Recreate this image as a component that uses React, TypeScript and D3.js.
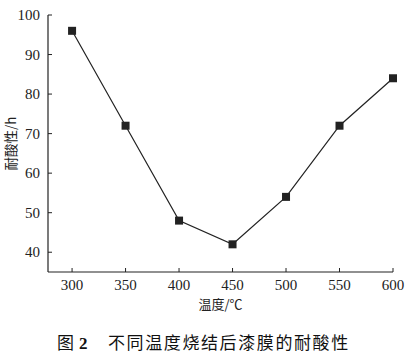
import React from "react";
import * as d3 from "d3";

const temps = [300, 350, 400, 450, 500, 550, 600];
const acidHours = [96, 72, 48, 42, 54, 72, 84];
const xTicks = [300, 350, 400, 450, 500, 550, 600];
const yTicks = [40, 50, 60, 70, 80, 90, 100];
const xTitle = "温度/℃";
const yTitle = "耐酸性/h";
const captionNum = "2";
const captionText = "不同温度烧结后漆膜的耐酸性";

export default function App() {
  const W = 411, H = 360;
  const left = 48, right = 393, top = 15, bottom = 272;
  const x = d3.scaleLinear().domain([277.5, 600]).range([left, right]);
  const y = d3.scaleLinear().domain([35, 100]).range([bottom, top]);
  const line = d3.line<number>().x((_, i) => x(temps[i])).y((d) => y(d));
  const serif = "Liberation Serif";
  const cjk = "Noto Sans CJK SC";
  const ink = "#222";
  return (
    <svg width={W} height={H} style={{ position: "absolute", left: 0, top: 0, background: "#fff" }}>
      <rect width={W} height={H} fill="#fff" />
      <line x1={left} y1={top} x2={left} y2={bottom} stroke={ink} strokeWidth={1.2} />
      <line x1={left} y1={bottom} x2={right} y2={bottom} stroke={ink} strokeWidth={1.2} />
      {yTicks.map((t) => (
        <g key={"y" + t}>
          <line x1={left} x2={left + 4} y1={y(t)} y2={y(t)} stroke={ink} strokeWidth={1} />
          <text x={left - 8} y={y(t)} dy="0.35em" textAnchor="end" fontFamily={serif} fontSize={15} fill={ink}>
            {t}
          </text>
        </g>
      ))}
      {xTicks.map((t) => (
        <g key={"x" + t}>
          <line x1={x(t)} x2={x(t)} y1={bottom} y2={bottom - 4} stroke={ink} strokeWidth={1} />
          <text x={x(t)} y={bottom + 18} textAnchor="middle" fontFamily={serif} fontSize={15} fill={ink}>
            {t}
          </text>
        </g>
      ))}
      <text x={(left + right) / 2} y={309} textAnchor="middle" fontFamily={cjk} fontSize={13} fill={ink}>
        {xTitle}
      </text>
      <text
        transform={`translate(16, ${(top + bottom) / 2}) rotate(-90)`}
        textAnchor="middle"
        fontFamily={cjk}
        fontSize={13.5}
        fill={ink}
      >
        {yTitle}
      </text>
      <path d={line(acidHours) || ""} fill="none" stroke={ink} strokeWidth={1.2} />
      {acidHours.map((v, i) => (
        <rect key={"m" + i} x={x(temps[i]) - 4} y={y(v) - 4} width={8} height={8} fill={ink} />
      ))}
      <text x={57} y={349} fontFamily={cjk} fontSize={17} fill="#111">
        图
      </text>
      <text x={79} y={349} fontFamily={serif} fontWeight="bold" fontSize={17} fill="#111">
        {captionNum}
      </text>
      <text x={108} y={349} fontFamily={cjk} fontSize={17} letterSpacing={1.6} fill="#111">
        {captionText}
      </text>
    </svg>
  );
}
